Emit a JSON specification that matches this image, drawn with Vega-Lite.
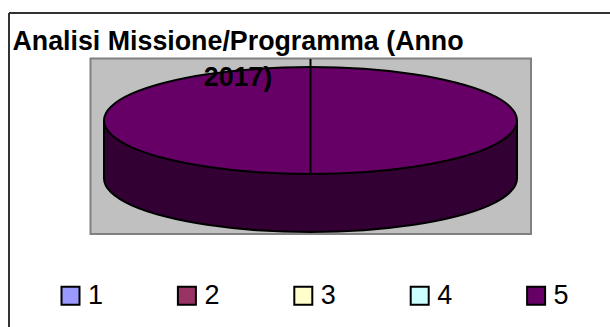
{
"$schema":"https://vega.github.io/schema/vega-lite/v6.json",
"width":610,"height":327,"padding":0,"autosize":{"type":"none"},"background":"white",
"view":{"stroke":null},
"title":{"text":["Analisi Missione/Programma (Anno","2017)"],"anchor":"start","frame":"group","align":"center","baseline":"alphabetic","dx":238,"dy":113,"offset":0,"font":"Liberation Sans","fontSize":26.8,"fontWeight":"bold","color":"#000000","lineHeight":36,"zindex":1},
"datasets":{
"frame":[{"x":9,"y":13,"x2":610,"y2":13},{"x":9,"y":13,"x2":9,"y2":327}],
"plot":[{"x":90.5,"x2":531,"y":58.5,"y2":234}],
"body":[{"x":104,"x2":517,"y":120.5,"y2":178.5}],
"edges":[{"x":104,"y":120.5,"y2":178.5},{"x":517,"y":120.5,"y2":178.5}],
"cut":[{"x":310.5,"y":59,"y2":174}],
"pie":[
{"i":0,"slice":"5","x":517,"top":120.5,"bottom":178.5},
{"i":1,"slice":"5","x":510,"top":134.3,"bottom":192.3},
{"i":2,"slice":"5","x":489.3,"top":147.3,"bottom":205.3},
{"i":3,"slice":"5","x":456.5,"top":158.3,"bottom":216.3},
{"i":4,"slice":"5","x":413.8,"top":166.8,"bottom":224.8},
{"i":5,"slice":"5","x":363.9,"top":172.2,"bottom":230.2},
{"i":6,"slice":"5","x":310.5,"top":174,"bottom":232},
{"i":7,"slice":"5","x":257.1,"top":172.2,"bottom":230.2},
{"i":8,"slice":"5","x":207.2,"top":166.8,"bottom":224.8},
{"i":9,"slice":"5","x":164.5,"top":158.3,"bottom":216.3},
{"i":10,"slice":"5","x":131.7,"top":147.3,"bottom":205.3},
{"i":11,"slice":"5","x":111,"top":134.3,"bottom":192.3},
{"i":12,"slice":"5","x":104,"top":120.5,"bottom":178.5},
{"i":13,"slice":"5","x":111,"top":106.7,"bottom":164.7},
{"i":14,"slice":"5","x":131.7,"top":93.7,"bottom":151.7},
{"i":15,"slice":"5","x":164.5,"top":82.7,"bottom":140.7},
{"i":16,"slice":"5","x":207.2,"top":74.2,"bottom":132.2},
{"i":17,"slice":"5","x":257.1,"top":68.8,"bottom":126.8},
{"i":18,"slice":"5","x":310.5,"top":67,"bottom":125},
{"i":19,"slice":"5","x":363.9,"top":68.8,"bottom":126.8},
{"i":20,"slice":"5","x":413.8,"top":74.2,"bottom":132.2},
{"i":21,"slice":"5","x":456.5,"top":82.7,"bottom":140.7},
{"i":22,"slice":"5","x":489.3,"top":93.7,"bottom":151.7},
{"i":23,"slice":"5","x":510,"top":106.7,"bottom":164.7}
]},
"encoding":{
"x":{"field":"x","type":"quantitative","scale":{"domain":[0,610],"nice":false,"zero":false},"axis":null},
"y":{"field":"y","type":"quantitative","scale":{"domain":[327,0],"nice":false,"zero":false},"axis":null}
},
"layer":[
{"data":{"name":"frame"},"mark":{"type":"rule","stroke":"#333333","strokeWidth":2},"encoding":{"x2":{"field":"x2"},"y2":{"field":"y2"}}},
{"data":{"name":"plot"},"mark":{"type":"rect","fill":"#c0c0c0","stroke":"#808080","strokeWidth":2},"encoding":{"x2":{"field":"x2"},"y2":{"field":"y2"}}},
{"data":{"name":"pie"},"mark":{"type":"line","interpolate":"cardinal-closed","fill":"#330033","stroke":"#000000","strokeWidth":2},"encoding":{"y":{"field":"bottom","type":"quantitative"},"order":{"field":"i"}}},
{"data":{"name":"body"},"mark":{"type":"rect","fill":"#330033"},"encoding":{"x2":{"field":"x2"},"y2":{"field":"y2"}}},
{"data":{"name":"edges"},"mark":{"type":"rule","stroke":"#000000","strokeWidth":2},"encoding":{"y2":{"field":"y2"}}},
{"data":{"name":"pie"},"mark":{"type":"line","interpolate":"cardinal-closed","stroke":"#000000","strokeWidth":2},"encoding":{"y":{"field":"top","type":"quantitative"},"order":{"field":"i"},
"fill":{"field":"slice","type":"nominal","scale":{"domain":["1","2","3","4","5"],"range":["#9999ff","#993366","#ffffcc","#ccffff","#660066"]},
"legend":{"title":null,"orient":"none","legendX":57,"legendY":282,"direction":"horizontal","columns":5,"columnPadding":69.4,"symbolType":"square","symbolSize":324,"symbolStrokeColor":"#000000","symbolStrokeWidth":2,"symbolOpacity":1,"labelFont":"Liberation Sans","labelFontSize":27,"labelColor":"#000000","labelOffset":4}}}},
{"data":{"name":"cut"},"mark":{"type":"rule","stroke":"#000000","strokeWidth":2},"encoding":{"y2":{"field":"y2"}}}
]
}
